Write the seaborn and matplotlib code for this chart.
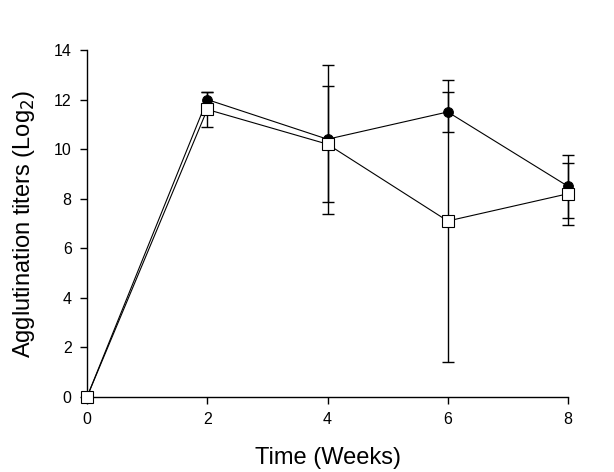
import numpy as np
import pandas as pd
import seaborn as sns
import matplotlib.pyplot as plt

# Data
weeks = [0, 2, 4, 6, 8]
filled_mean = [0.0, 12.0, 10.4, 11.5, 8.5]
filled_sd = [0.0, 0.3, 3.0, 0.82, 1.26]
open_mean = [0.0, 11.6, 10.2, 7.1, 8.2]
open_sd = [0.0, 0.7, 2.35, 5.7, 1.25]

df = pd.DataFrame({
    "week": weeks * 2,
    "titer": filled_mean + open_mean,
    "group": ["filled"] * len(weeks) + ["open"] * len(weeks),
})

sns.set_style("white")
plt.rcParams['font.family'] = ['Liberation Sans', 'DejaVu Sans']
plt.rcParams['text.color'] = 'black'
plt.rcParams['axes.labelcolor'] = 'black'
plt.rcParams['xtick.color'] = 'black'
plt.rcParams['ytick.color'] = 'black'

fig = plt.figure(figsize=(6.14, 4.72), dpi=100)
ax = fig.add_axes([0.1417, 0.1589, 0.7834, 0.7352])

# Error bars
ax.errorbar(weeks, filled_mean, yerr=filled_sd, fmt="none", ecolor="black",
            elinewidth=1, capsize=4, capthick=1, zorder=2, clip_on=False)
ax.errorbar(weeks, open_mean, yerr=open_sd, fmt="none", ecolor="black",
            elinewidth=1, capsize=4, capthick=1, zorder=2, clip_on=False)

# Lines and markers
sns.lineplot(
    data=df[df.group == "filled"], x="week", y="titer",
    color="black", linewidth=0.8, marker="o", markersize=7,
    markerfacecolor="black", markeredgecolor="black",
    ax=ax, zorder=3, clip_on=False
)
sns.lineplot(
    data=df[df.group == "open"], x="week", y="titer",
    color="black", linewidth=0.8, marker="s", markersize=8,
    markerfacecolor="white", markeredgecolor="black", markeredgewidth=0.8,
    ax=ax, zorder=4, clip_on=False
)

ax.set_xlim(0, 8)
ax.set_ylim(0, 14)
ax.set_xticks([0, 2, 4, 6, 8])
ax.set_yticks([0, 2, 4, 6, 8, 10, 12, 14])

for s in ["top", "right"]:
    ax.spines[s].set_visible(False)
for s in ["left", "bottom"]:
    ax.spines[s].set_color("black")
    ax.spines[s].set_linewidth(1)

ax.tick_params(axis="both", which="major", direction="out", length=5,
               width=1, color="black", labelcolor="black", labelsize=11.5,
               pad=6, left=True, bottom=True)

ax.set_xlabel("Time (Weeks)", fontsize=17, labelpad=14, color="black")
ax.set_ylabel("Agglutination titers (Log$_2$)", fontsize=17, labelpad=12,
              color="black")

fig.savefig("out.png", dpi=100)
